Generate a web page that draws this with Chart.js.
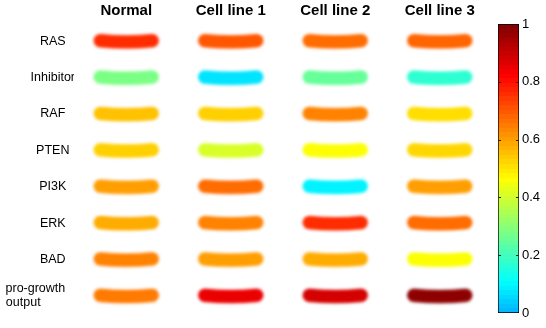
<!DOCTYPE html>
<html>
<head>
<meta charset="utf-8">
<script src="https://cdn.jsdelivr.net/npm/chart.js@4"></script>
<style>
  body { margin: 0; background: #fff; }
  #wrap { position: relative; width: 546px; height: 328px; }
  #wrap canvas { position: absolute; left: 0; top: 0; }
</style>
</head>
<body>
<div id="wrap">
  <canvas id="grid-chart" width="546" height="328"></canvas>
  <canvas id="colorbar-chart" width="546" height="328"></canvas>
</div>
<script>
// Columns and rows of the grid
const columns = ["Normal", "Cell line 1", "Cell line 2", "Cell line 3"];
const rows = ["RAS", "Inhibitor", "RAF", "PTEN", "PI3K", "ERK", "BAD", "pro-growth output"];
// Row tick labels (last one split over two lines, padded so both lines start at the same x)
const rowTicks = ["RAS", "Inhibitor", "RAF", "PTEN", "PI3K", "ERK", "BAD",
  ["pro-growth          ", "output                 "]];

const normal    = [0.76, 0.28, 0.55, 0.53, 0.60, 0.58, 0.64, 0.65];
const cellLine1 = [0.70, 0.07, 0.53, 0.41, 0.67, 0.64, 0.60, 0.85];
const cellLine2 = [0.67, 0.25, 0.64, 0.46, 0.09, 0.76, 0.58, 0.88];
const cellLine3 = [0.68, 0.17, 0.51, 0.52, 0.60, 0.67, 0.46, 0.98];

// Colour bar range and ticks
const colorbarRange = [0, 1];
const colorbarTicks = [0, 0.2, 0.4, 0.6, 0.8, 1];

Chart.defaults.font.family = "'Liberation Sans', Arial, sans-serif";
Chart.defaults.color = "#000";

// jet-like colormap, starting at light blue
function jet(v) {
  const t = Math.min(1, Math.max(0, 0.3 + 0.7 * v));
  const c = x => Math.round(255 * Math.min(1, Math.max(0, 1.5 - Math.abs(4 * t - x))));
  return `rgb(${c(3)},${c(2)},${c(1)})`;
}

// Blurred pill used as point style
function pill(color) {
  const c = document.createElement("canvas");
  c.width = 80;
  c.height = 28;
  const g = c.getContext("2d");
  g.filter = "blur(1.4px)";
  g.strokeStyle = color;
  g.lineWidth = 13.5;
  g.lineCap = "round";
  g.beginPath();
  g.moveTo(14, 13.5);
  g.quadraticCurveTo(40, 16, 66, 13.5);
  g.stroke();
  return c;
}

const columnValues = [normal, cellLine1, cellLine2, cellLine3];

const datasets = columnValues.map((values, j) => ({
  label: columns[j],
  data: rows.map((r) => ({ x: columns[j], y: r })),
  pointStyle: values.map(v => pill(jet(v))),
  pointRadius: 10,
  showLine: false,
}));

new Chart(document.getElementById("grid-chart"), {
  type: "scatter",
  data: { datasets },
  options: {
    responsive: false,
    animation: false,
    events: [],
    layout: { padding: { left: 0, top: 0, right: 54, bottom: 14 } },
    plugins: { legend: { display: false }, tooltip: { enabled: false } },
    scales: {
      x: {
        type: "category",
        labels: columns,
        position: "top",
        offset: true,
        grid: { display: false, drawTicks: false },
        border: { display: false },
        ticks: { font: { size: 15, weight: "bold" }, padding: 3, maxRotation: 0 },
        afterFit: (scale) => { scale.height = 23; },
      },
      y: {
        type: "category",
        labels: rows,
        offset: true,
        grid: { display: false, drawTicks: false },
        border: { display: false },
        ticks: {
          font: { size: 12.5, lineHeight: 1.1 },
          crossAlign: "center",
          padding: -26,
          callback: (v, i) => rowTicks[i],
        },
        afterFit: (scale) => { scale.width = 74; },
      },
    },
  },
});

// Colour bar
function barGradient(context) {
  const chart = context.chart;
  const area = chart.chartArea;
  if (!area) return null;
  const g = chart.ctx.createLinearGradient(0, area.bottom, 0, area.top);
  const steps = 64;
  for (let k = 0; k < steps; k++) {
    const c = jet((k + 0.5) / steps);
    g.addColorStop(k / steps, c);
    g.addColorStop((k + 1) / steps, c);
  }
  return g;
}

const tickMarks = {
  id: "tickMarks",
  afterDatasetsDraw(chart) {
    const ctx = chart.ctx;
    const a = chart.chartArea;
    const y = chart.scales.y;
    ctx.save();
    ctx.strokeStyle = "#222";
    ctx.lineWidth = 1;
    colorbarTicks.forEach(v => {
      if (v === colorbarRange[0] || v === colorbarRange[1]) return;
      const py = Math.round(y.getPixelForValue(v)) + 0.5;
      ctx.beginPath();
      ctx.moveTo(a.left, py); ctx.lineTo(a.left + 3, py);
      ctx.moveTo(a.right - 3, py); ctx.lineTo(a.right, py);
      ctx.stroke();
    });
    ctx.restore();
  },
};

new Chart(document.getElementById("colorbar-chart"), {
  type: "bar",
  data: {
    labels: ["colorbar"],
    datasets: [{
      data: [colorbarRange],
      backgroundColor: barGradient,
      borderColor: "#000",
      borderWidth: 1,
      borderSkipped: false,
      barPercentage: 1,
      categoryPercentage: 1,
    }],
  },
  options: {
    responsive: false,
    animation: false,
    events: [],
    layout: { padding: { left: 498, top: 24, bottom: 15, right: 0 } },
    plugins: { legend: { display: false }, tooltip: { enabled: false } },
    scales: {
      x: { display: false },
      y: {
        position: "right",
        min: colorbarRange[0],
        max: colorbarRange[1],
        grid: { display: false, drawTicks: false },
        border: { display: false },
        ticks: {
          stepSize: 0.2,
          padding: 3,
          font: { size: 13 },
          callback: v => String(Math.round(v * 10) / 10),
        },
        afterFit: (scale) => { scale.width = 27; },
      },
    },
  },
  plugins: [tickMarks],
});
</script>
</body>
</html>
